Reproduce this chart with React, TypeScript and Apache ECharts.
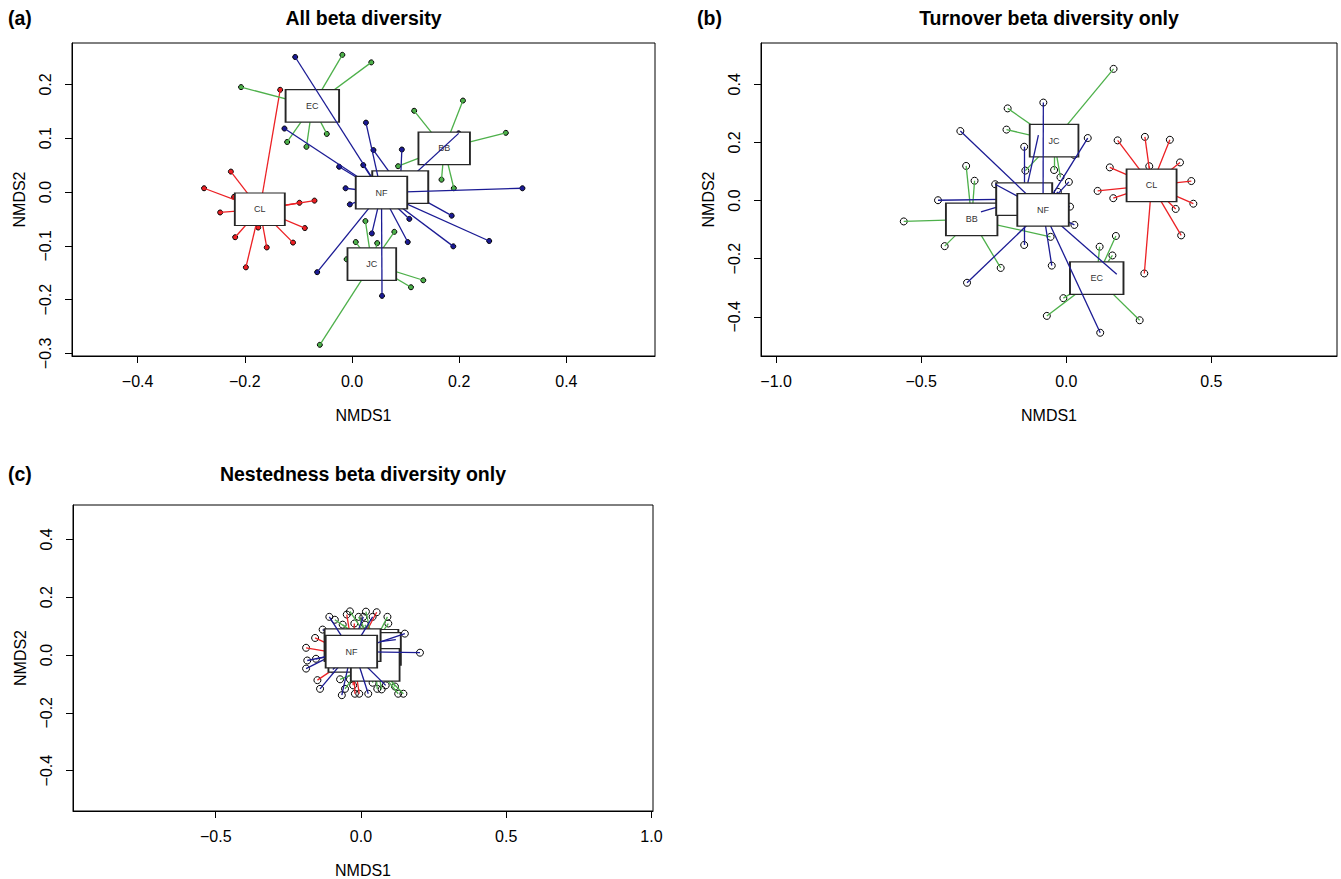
import React, { useEffect, useRef } from "react";
import * as echarts from "echarts";

// ---------- DATA ----------
const GROUPS = ["BB", "CL", "EC", "JC", "XX", "NF"];
// labels that can be seen in each panel (the others sit hidden under the NF box)
const a_labels = ["BB", "CL", "EC", "JC", "", "NF"];
const b_labels = ["BB", "CL", "EC", "JC", "", "NF"];
const c_labels = ["", "", "", "", "", "NF"];

// Panel (a) All beta diversity
const a_BB = [[0.116, 0.151], [0.207, 0.170], [0.287, 0.110], [0.086, 0.048], [0.167, 0.023], [0.190, 0.007]];
const a_CL = [[-0.226, 0.038], [-0.276, 0.007], [-0.220, -0.009], [-0.246, -0.038], [-0.218, -0.084], [-0.175, -0.066], [-0.198, -0.140], [-0.159, -0.103], [-0.110, -0.094], [-0.088, -0.067], [-0.098, -0.020], [-0.070, -0.016], [-0.134, 0.190]];
const a_EC = [[-0.207, 0.195], [-0.018, 0.255], [0.036, 0.241], [-0.121, 0.093], [-0.085, 0.084], [-0.047, 0.108]];
const a_JC = [[0.025, -0.054], [0.007, -0.093], [0.047, -0.095], [0.079, -0.074], [0.133, -0.164], [0.110, -0.177], [-0.060, -0.284], [-0.010, -0.125]];
const a_XX = [[0.040, 0.078], [0.093, 0.079], [0.199, 0.109], [0.186, -0.044]];
const a_NF = [[-0.106, 0.251], [-0.126, 0.118], [0.026, 0.129], [-0.024, 0.047], [0.021, 0.050], [-0.012, 0.007], [-0.004, -0.023], [0.318, 0.007], [0.256, -0.091], [0.189, -0.101], [0.107, -0.050], [0.104, -0.093], [0.037, -0.077], [0.056, -0.193], [-0.065, -0.149]];
const a_centroids = [[0.172, 0.081], [-0.172, -0.032], [-0.074, 0.160], [0.037, -0.134], [0.090, 0.009], [0.055, -0.001]];

// Panel (b) Turnover beta diversity only
const b_BB = [[-0.345, 0.119], [-0.316, 0.068], [-0.560, -0.072], [-0.419, -0.157], [-0.226, -0.232], [-0.054, -0.125]];
const b_CL = [[0.177, 0.207], [0.271, 0.219], [0.357, 0.209], [0.392, 0.131], [0.286, 0.118], [0.150, 0.114], [0.431, 0.067], [0.108, 0.033], [0.162, 0.008], [0.438, -0.011], [0.377, -0.029], [0.396, -0.120], [0.269, -0.251]];
const b_EC = [[0.115, -0.159], [0.171, -0.122], [0.159, -0.189], [-0.010, -0.336], [-0.067, -0.397], [0.253, -0.412]];
const b_JC = [[0.163, 0.453], [-0.202, 0.317], [-0.206, 0.244], [-0.042, 0.105], [-0.020, 0.080], [-0.141, 0.103], [0.027, 0.157]];
const b_XX = [[-0.145, 0.185], [-0.096, 0.225], [-0.442, 0.001], [-0.294, -0.039], [-0.145, -0.153]];
const b_NF = [[-0.079, 0.337], [-0.365, 0.239], [0.074, 0.215], [0.009, 0.064], [-0.029, 0.030], [-0.245, 0.056], [0.013, -0.021], [0.028, -0.084], [-0.050, -0.224], [-0.342, -0.283], [0.117, -0.455], [0.174, -0.254]];
const b_centroids = [[-0.326, -0.065], [0.294, 0.052], [0.105, -0.267], [-0.042, 0.206], [-0.145, 0.005], [-0.080, -0.032]];

// Panel (c) Nestedness beta diversity only
const c_BB = [[-0.038, 0.151], [0.091, 0.132], [0.094, 0.109], [-0.038, -0.084], [-0.090, 0.122]];
const c_CL = [[-0.049, 0.140], [0.054, 0.148], [-0.023, 0.109], [-0.158, 0.059], [-0.189, 0.025], [-0.150, -0.087], [-0.021, -0.134], [-0.006, -0.134], [-0.027, -0.105], [0.100, -0.074]];
const c_EC = [[-0.008, 0.132], [-0.063, 0.105], [0.014, 0.105], [-0.055, -0.117], [0.071, -0.119], [0.017, 0.150], [0.117, -0.109]];
const c_JC = [[-0.072, -0.084], [0.040, -0.096], [0.056, -0.117], [0.128, -0.134], [0.146, -0.134]];
const c_XX = [[0.008, 0.132], [-0.132, 0.088], [-0.189, -0.047], [0.025, -0.134], [0.120, 0.053]];
const c_NF = [[-0.109, 0.132], [0.040, 0.132], [0.151, 0.074], [-0.185, -0.019], [-0.141, -0.117], [0.203, 0.008], [-0.066, -0.139], [0.085, -0.105], [-0.097, -0.050], [-0.155, -0.013]];
const c_centroids = [[0.040, 0.032], [-0.026, -0.003], [0.045, 0.021], [0.049, -0.034], [-0.029, 0.034], [-0.033, 0.012]];

// tick values
const a_xTicks = [-0.4, -0.2, 0, 0.2, 0.4];
const a_yTicks = [-0.3, -0.2, -0.1, 0, 0.1, 0.2];
const b_xTicks = [-1.0, -0.5, 0, 0.5];
const b_yTicks = [-0.4, -0.2, 0, 0.2, 0.4];
const c_xTicks = [-0.5, 0, 0.5, 1.0];
const c_yTicks = [-0.4, -0.2, 0, 0.2, 0.4];

const TITLES = ["All beta diversity", "Turnover beta diversity only", "Nestedness beta diversity only"];
const TAGS = ["(a)", "(b)", "(c)"];

// ---------- STYLE ----------
const FONT = '"Liberation Sans", Arial, Helvetica, sans-serif';
const GREEN = "#4db04a";
const RED = "#ec2024";
const BLUE = "#1b1b94";
const GROUP_COLORS = [GREEN, RED, GREEN, GREEN, BLUE, BLUE];
const BOX_W: Record<string, number> = { BB: 51.5, CL: 50, EC: 53.5, JC: 48.7, XX: 56, NF: 51.5 };
const BOX_H = 32.5;

const PANELS = [
  { grid: { left: 72, top: 43, width: 583, height: 313 }, x: [-0.5224, 0.5653], y: [-0.3048, 0.277], xt: a_xTicks, yt: a_yTicks,
    groups: [a_BB, a_CL, a_EC, a_JC, a_XX, a_NF], cent: a_centroids, labels: a_labels, ptSize: 5, filled: true,
    title: [363.5, 18], tag: [8, 18] },
  { grid: { left: 761, top: 43, width: 576, height: 313 }, x: [-1.052, 0.933], y: [-0.535, 0.542], xt: b_xTicks, yt: b_yTicks,
    groups: [b_BB, b_CL, b_EC, b_JC, b_XX, b_NF], cent: b_centroids, labels: b_labels, ptSize: 7, filled: false,
    title: [1049, 18], tag: [697, 18] },
  { grid: { left: 73, top: 505, width: 580, height: 307 }, x: [-0.9914, 1.0052], y: [-0.5397, 0.519], xt: c_xTicks, yt: c_yTicks,
    groups: [c_BB, c_CL, c_EC, c_JC, c_XX, c_NF], cent: c_centroids, labels: c_labels, ptSize: 7, filled: false,
    title: [363, 474], tag: [8, 474] },
];

const fmt = (v: number) => (v < 0 ? "\u2212" : "") + Math.abs(v).toFixed(1);

function buildOption() {
  const grid: any[] = [];
  const xAxis: any[] = [];
  const yAxis: any[] = [];
  const series: any[] = [];
  const graphic: any[] = [];

  PANELS.forEach((p, i) => {
    grid.push({ ...p.grid, show: true, borderColor: "#000", borderWidth: 1, backgroundColor: "transparent", containLabel: false });
    xAxis.push({
      type: "value", gridIndex: i, min: p.x[0], max: p.x[1],
      axisLine: { show: true, onZero: false, lineStyle: { color: "#000", width: 1 } },
      axisTick: { show: true, length: 7, customValues: p.xt, lineStyle: { color: "#000", width: 1 } },
      axisLabel: { customValues: p.xt, formatter: fmt, fontSize: 16, color: "#000", fontFamily: FONT, margin: 17 },
      splitLine: { show: false },
      name: "NMDS1", nameLocation: "middle", nameGap: 51,
      nameTextStyle: { fontSize: 16, color: "#000", fontFamily: FONT },
    });
    yAxis.push({
      type: "value", gridIndex: i, min: p.y[0], max: p.y[1],
      axisLine: { show: true, onZero: false, lineStyle: { color: "#000", width: 1 } },
      axisTick: { show: true, length: 7, customValues: p.yt, lineStyle: { color: "#000", width: 1 } },
      axisLabel: { customValues: p.yt, formatter: fmt, fontSize: 16, color: "#000", fontFamily: FONT, margin: 19, rotate: 90 },
      splitLine: { show: false },
      name: "NMDS2", nameLocation: "middle", nameGap: 45,
      nameTextStyle: { fontSize: 16, color: "#000", fontFamily: FONT },
    });

    // points (bottom layer)
    p.groups.forEach((pts, g) => {
      series.push({
        type: "scatter", xAxisIndex: i, yAxisIndex: i, z: 1, silent: true,
        symbol: "circle", symbolSize: p.ptSize,
        itemStyle: { color: p.filled ? GROUP_COLORS[g] : "rgba(255,255,255,0)", borderColor: "#000", borderWidth: 1, opacity: 1 },
        data: pts,
      });
    });

    // spiders + label boxes, group by group
    p.groups.forEach((pts, g) => {
      const c = p.cent[g];
      series.push({
        type: "lines", coordinateSystem: "cartesian2d", xAxisIndex: i, yAxisIndex: i,
        z: 2 + g * 2, silent: true, polyline: false,
        lineStyle: { color: GROUP_COLORS[g], width: 1.3, opacity: 1, curveness: 0 },
        data: pts.map((pt) => ({ coords: [c, pt] })),
      });
      const lab = p.labels[g];
      series.push({
        type: "scatter", xAxisIndex: i, yAxisIndex: i, z: 3 + g * 2, silent: true,
        symbol: "rect", symbolSize: [BOX_W[GROUPS[g]], BOX_H],
        itemStyle: { color: "#fff", borderColor: "#262626", borderWidth: 1.5, opacity: 1 },
        label: { show: lab !== "", position: "inside", formatter: "{b}", fontSize: 9, color: "#333", fontFamily: FONT },
        data: [{ value: c, name: lab }],
      });
    });

    graphic.push({
      type: "text", x: p.title[0], y: p.title[1], z: 100,
      style: { text: TITLES[i], font: `bold 19.5px ${FONT}`, fill: "#000", align: "center", verticalAlign: "middle", textAlign: "center", textVerticalAlign: "middle" },
    });
    graphic.push({
      type: "text", x: p.tag[0], y: p.tag[1], z: 100,
      style: { text: TAGS[i], font: `bold 19.5px ${FONT}`, fill: "#000", align: "left", verticalAlign: "middle", textAlign: "left", textVerticalAlign: "middle" },
    });
  });

  return { animation: false, backgroundColor: "#fff", grid, xAxis, yAxis, series, graphic };
}

export default function App() {
  const ref = useRef<HTMLDivElement>(null);
  useEffect(() => {
    if (!ref.current) return;
    const chart = echarts.init(ref.current, undefined, { renderer: "svg" });
    chart.setOption(buildOption() as any);
    return () => chart.dispose();
  }, []);
  return (
    <div
      ref={ref}
      style={{ position: "fixed", left: 0, top: 0, width: 1341, height: 879, background: "#fff" }}
    />
  );
}
